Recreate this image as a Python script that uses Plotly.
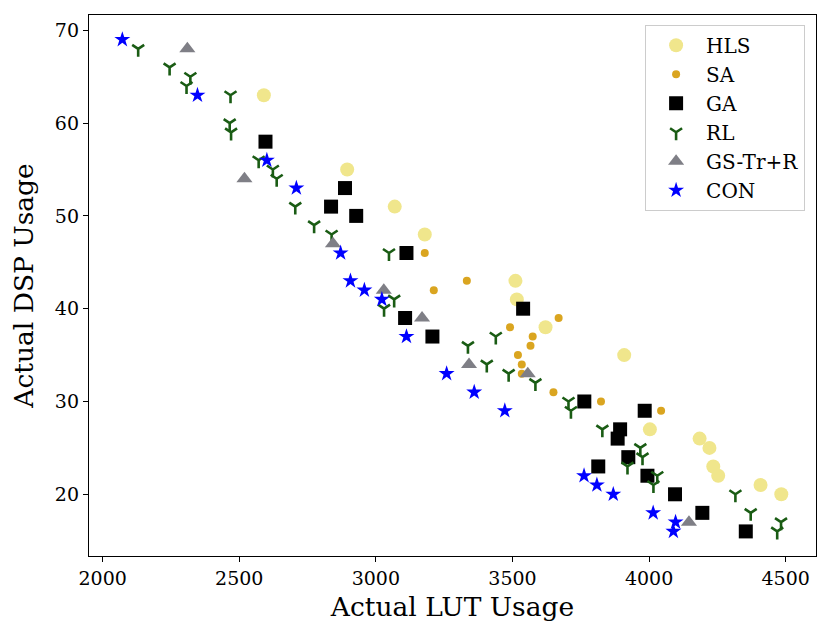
import plotly.graph_objects as go

# HLS
hls_lut = [2590, 2895, 3069, 3179, 3511, 3516, 3621, 3909, 4003, 4185, 4221, 4235, 4253, 4408, 4484]
hls_dsp = [63, 55, 51, 48, 43, 41, 38, 35, 27, 26, 25, 23, 22, 21, 20]

# SA
sa_lut = [3179, 3212, 3333, 3669, 3491, 3574, 3566, 3520, 3534, 3534, 3650, 3824, 4044]
sa_dsp = [46, 42, 43, 39, 38, 37, 36, 35, 34, 33, 31, 30, 29]

# GA
ga_lut = [2596, 2887, 2836, 2928, 3112, 3539, 3107, 3207, 3763, 3984, 3894, 3885,
          3924, 3814, 3994, 4095, 4195, 4354]
ga_dsp = [58, 53, 51, 50, 46, 40, 39, 37, 30, 29, 27, 26, 24, 23, 22, 20, 18, 16]

# RL
rl_lut = [2130, 2245, 2321, 2307, 2468, 2465, 2470, 2571, 2623, 2637, 2705, 2774,
          2838, 3048, 3067, 3030, 3337, 3439, 3406, 3486, 3584, 3705, 3714, 3829,
          3968, 3976, 3921, 4030, 4016, 4316, 4372, 4483, 4469]
rl_dsp = [68, 66, 65, 64, 63, 60, 59, 56, 55, 54, 51, 49, 48, 46, 41, 40, 36, 37,
          34, 33, 32, 30, 29, 27, 25, 24, 23, 22, 21, 20, 18, 17, 16]

# GS-Tr+R
gs_lut = [2310, 2519, 2843, 3029, 3169, 3341, 3556, 4146]
gs_dsp = [68, 54, 47, 42, 39, 34, 33, 17]

# CON
con_lut = [2072, 2347, 2601, 2709, 2871, 2907, 2958, 3022, 3112, 3259, 3360, 3472,
           3762, 3809, 3869, 4015, 4097, 4089]
con_dsp = [69, 63, 56, 53, 46, 43, 42, 41, 37, 33, 31, 29, 22, 21, 20, 18, 17, 16]

fig = go.Figure()

fig.add_trace(go.Scatter(
    x=hls_lut, y=hls_dsp, mode="markers", name="HLS",
    marker=dict(symbol="circle", size=14, color="#f0e68c")
))
fig.add_trace(go.Scatter(
    x=sa_lut, y=sa_dsp, mode="markers", name="SA",
    marker=dict(symbol="circle", size=8, color="#daa520")
))
fig.add_trace(go.Scatter(
    x=ga_lut, y=ga_dsp, mode="markers", name="GA",
    marker=dict(symbol="square", size=14, color="black")
))
fig.add_trace(go.Scatter(
    x=rl_lut, y=rl_dsp, mode="markers", name="RL",
    marker=dict(symbol="y-down", size=10, color="#1a5c14",
                line=dict(width=2.6, color="#1a5c14"))
))
fig.add_trace(go.Scatter(
    x=gs_lut, y=gs_dsp, mode="markers", name="GS-Tr+R",
    marker=dict(symbol="triangle-up", size=14, color="#7f7f86")
))
fig.add_trace(go.Scatter(
    x=con_lut, y=con_dsp, mode="markers", name="CON",
    marker=dict(symbol="star", size=12, color="blue")
))

axis_style = dict(
    showline=True,
    linecolor="black",
    linewidth=1.3,
    mirror=True,
    ticks="outside",
    ticklen=5,
    tickwidth=1.2,
    tickcolor="black",
    showgrid=False,
    zeroline=False,
    automargin=False,
    tickfont=dict(size=19, color="black"),
)

fig.update_xaxes(
    axis_style,
    range=[1950, 4611],
    tickvals=[2000, 2500, 3000, 3500, 4000, 4500],
    title=dict(text="Actual LUT Usage", font=dict(size=26.5, color="black"), standoff=9),
)
fig.update_yaxes(
    axis_style,
    range=[13.35, 71.65],
    tickvals=[20, 30, 40, 50, 60, 70],
    title=dict(text="Actual DSP Usage", font=dict(size=26.5, color="black"), standoff=15),
)

# page body has an 8px margin, so the figure is a bit smaller than the window
fig.update_layout(
    width=822,
    height=631,
    template="plotly_white",
    plot_bgcolor="white",
    paper_bgcolor="white",
    font=dict(family="DejaVu Serif", color="black"),
    margin=dict(l=81, r=14, t=7, b=83),
    legend=dict(
        x=0.985,
        y=0.982,
        xanchor="right",
        yanchor="top",
        bgcolor="white",
        bordercolor="#cccccc",
        borderwidth=1,
        font=dict(size=20, color="black"),
        itemwidth=50,
    ),
)

fig.write_html("out.html")
